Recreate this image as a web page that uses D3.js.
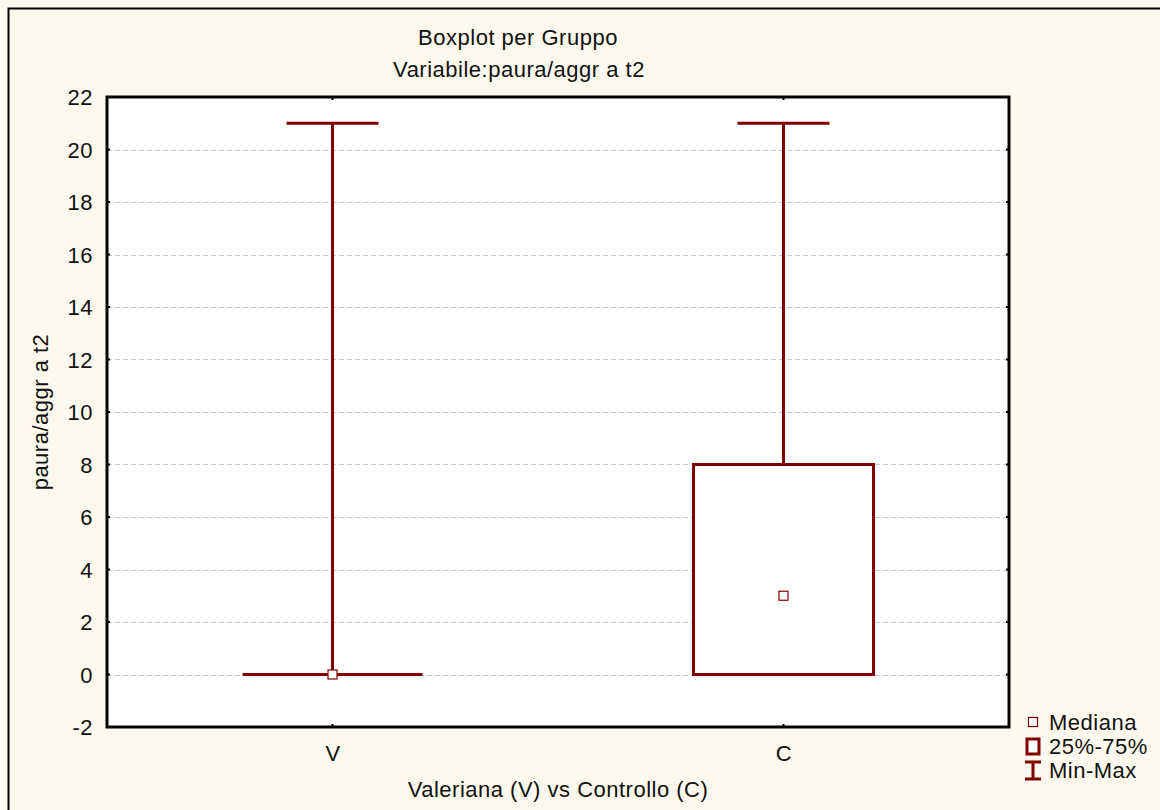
<!DOCTYPE html>
<html>
<head>
<meta charset="utf-8">
<script src="https://cdn.jsdelivr.net/npm/d3@7"></script>
<style>
  html, body { margin: 0; padding: 0; background: #fef9ef; }
  svg { display: block; }
  text { font-family: "Liberation Sans", Arial, sans-serif; fill: #111; letter-spacing: 0.5px; }
</style>
</head>
<body>
<svg id="chart" width="1160" height="810"></svg>
<script>
// Groups and their summary statistics
const groups = ["V", "C"];
const minVals = [0, 0];
const q1Vals = [0, 0];
const medianVals = [0, 3];
const q3Vals = [0, 8];
const maxVals = [21, 21];
const yTicks = [-2, 0, 2, 4, 6, 8, 10, 12, 14, 16, 18, 20, 22];
const legendLabels = ["Mediana", "25%-75%", "Min-Max"];

const darkRed = "#800000";
const fs = 22;
const svg = d3.select("#chart");

// Outer frame
svg.append("rect").attr("x", 8.5).attr("y", 8.5).attr("width", 1160).attr("height", 810)
  .attr("fill", "#fef9ef").attr("stroke", "#000").attr("stroke-width", 2);

const plot = { left: 107, right: 1009, top: 97, bottom: 727 };

const x = d3.scalePoint().domain(groups).range([plot.left, plot.right]).padding(0.5);
const y = d3.scaleLinear().domain([-2, 22]).range([plot.bottom, plot.top]);

// Plot background
svg.append("rect").attr("x", plot.left).attr("y", plot.top)
  .attr("width", plot.right - plot.left).attr("height", plot.bottom - plot.top)
  .attr("fill", "#fff");

// Dashed grid lines
const inner = yTicks.filter(t => t > -2 && t < 22);
svg.append("g").selectAll("line").data(inner).join("line")
  .attr("x1", plot.left).attr("x2", plot.right)
  .attr("y1", d => Math.round(y(d)) + 0.5).attr("y2", d => Math.round(y(d)) + 0.5)
  .attr("stroke", "#c8c8c8").attr("stroke-dasharray", "5,3");

// Axes
const yAxis = d3.axisLeft(y).tickValues(yTicks).tickFormat(d => String(d)).tickSize(0).tickPadding(14);
const gy = svg.append("g").attr("transform", `translate(${plot.left},0)`).call(yAxis);
gy.attr("font-size", null).attr("font-family", null);
gy.select(".domain").remove();
gy.selectAll("text").attr("font-size", fs).attr("dy", "0.35em");

const xAxis = d3.axisBottom(x).tickSize(0).tickPadding(18);
const gx = svg.append("g").attr("transform", `translate(0,${plot.bottom})`).call(xAxis);
gx.attr("font-size", null).attr("font-family", null);
gx.select(".domain").remove();
gx.selectAll("text").attr("font-size", fs);

// Small inner tick marks
svg.append("g").selectAll("line").data(inner).join("line")
  .attr("x1", plot.left).attr("x2", plot.left + 3)
  .attr("y1", d => y(d)).attr("y2", d => y(d)).attr("stroke", "#000").attr("stroke-width", 2);
svg.append("g").selectAll("line").data(inner).join("line")
  .attr("x1", plot.right).attr("x2", plot.right - 3)
  .attr("y1", d => y(d)).attr("y2", d => y(d)).attr("stroke", "#000").attr("stroke-width", 2);
svg.append("g").selectAll("line").data(groups).join("line")
  .attr("x1", d => x(d)).attr("x2", d => x(d))
  .attr("y1", plot.bottom).attr("y2", plot.bottom - 3).attr("stroke", "#000").attr("stroke-width", 2);
svg.append("g").selectAll("line").data(groups).join("line")
  .attr("x1", d => x(d)).attr("x2", d => x(d))
  .attr("y1", plot.top).attr("y2", plot.top + 3).attr("stroke", "#000").attr("stroke-width", 2);

// Box plots
const data = groups.map((g, i) => ({
  g, min: minVals[i], q1: q1Vals[i], med: medianVals[i], q3: q3Vals[i], max: maxVals[i]
}));
const boxHalf = 90, capHalf = 46;
const bp = svg.append("g");
data.forEach(d => {
  const cx = x(d.g);
  // whiskers
  bp.append("line").attr("x1", cx).attr("x2", cx).attr("y1", y(d.q3)).attr("y2", y(d.max))
    .attr("stroke", darkRed).attr("stroke-width", 3);
  bp.append("line").attr("x1", cx).attr("x2", cx).attr("y1", y(d.min)).attr("y2", y(d.q1))
    .attr("stroke", darkRed).attr("stroke-width", 3);
  bp.append("line").attr("x1", cx - capHalf).attr("x2", cx + capHalf).attr("y1", y(d.max)).attr("y2", y(d.max))
    .attr("stroke", darkRed).attr("stroke-width", 3);
  bp.append("line").attr("x1", cx - capHalf).attr("x2", cx + capHalf).attr("y1", y(d.min)).attr("y2", y(d.min))
    .attr("stroke", darkRed).attr("stroke-width", 3);
  // box
  bp.append("rect").attr("x", cx - boxHalf).attr("width", 2 * boxHalf)
    .attr("y", y(d.q3)).attr("height", Math.max(0, y(d.q1) - y(d.q3)))
    .attr("fill", "#fff").attr("stroke", darkRed).attr("stroke-width", 3);
  if (d.q1 === d.q3) {
    bp.append("line").attr("x1", cx - boxHalf).attr("x2", cx + boxHalf).attr("y1", y(d.q1)).attr("y2", y(d.q1))
      .attr("stroke", darkRed).attr("stroke-width", 3);
  }
  // median marker
  bp.append("rect").attr("x", cx - 4.5).attr("y", y(d.med) - 4.5).attr("width", 9).attr("height", 9)
    .attr("fill", "#fff").attr("stroke", darkRed).attr("stroke-width", 1.2);
});

// Plot frame
svg.append("rect").attr("x", plot.left).attr("y", plot.top)
  .attr("width", plot.right - plot.left).attr("height", plot.bottom - plot.top)
  .attr("fill", "none").attr("stroke", "#000").attr("stroke-width", 3);

// Titles
svg.append("text").attr("x", 518).attr("y", 45).attr("text-anchor", "middle").attr("font-size", fs)
  .text("Boxplot per Gruppo");
svg.append("text").attr("x", 519).attr("y", 77).attr("text-anchor", "middle").attr("font-size", fs)
  .text("Variabile:paura/aggr a t2");
svg.append("text").attr("transform", "translate(48,412) rotate(-90)").attr("text-anchor", "middle")
  .attr("font-size", fs).text("paura/aggr a t2");
svg.append("text").attr("x", 558).attr("y", 797).attr("text-anchor", "middle").attr("font-size", fs)
  .text("Valeriana (V) vs Controllo (C)");

// Legend
const lg = svg.append("g");
const lx = 1033;
lg.append("rect").attr("x", lx - 4.5).attr("y", 717.5).attr("width", 9).attr("height", 9)
  .attr("fill", "#fff").attr("stroke", darkRed).attr("stroke-width", 1.2);
lg.append("rect").attr("x", lx - 6).attr("y", 739).attr("width", 12).attr("height", 15)
  .attr("fill", "#fff").attr("stroke", darkRed).attr("stroke-width", 3);
lg.append("line").attr("x1", lx).attr("x2", lx).attr("y1", 762).attr("y2", 779)
  .attr("stroke", darkRed).attr("stroke-width", 3);
lg.append("line").attr("x1", lx - 8).attr("x2", lx + 8).attr("y1", 762).attr("y2", 762)
  .attr("stroke", darkRed).attr("stroke-width", 3);
lg.append("line").attr("x1", lx - 8).attr("x2", lx + 8).attr("y1", 779).attr("y2", 779)
  .attr("stroke", darkRed).attr("stroke-width", 3);
lg.selectAll("text.lab").data(legendLabels).join("text").attr("class", "lab")
  .attr("x", 1049).attr("y", (d, i) => 730 + i * 24).attr("font-size", fs).text(d => d);
</script>
</body>
</html>
